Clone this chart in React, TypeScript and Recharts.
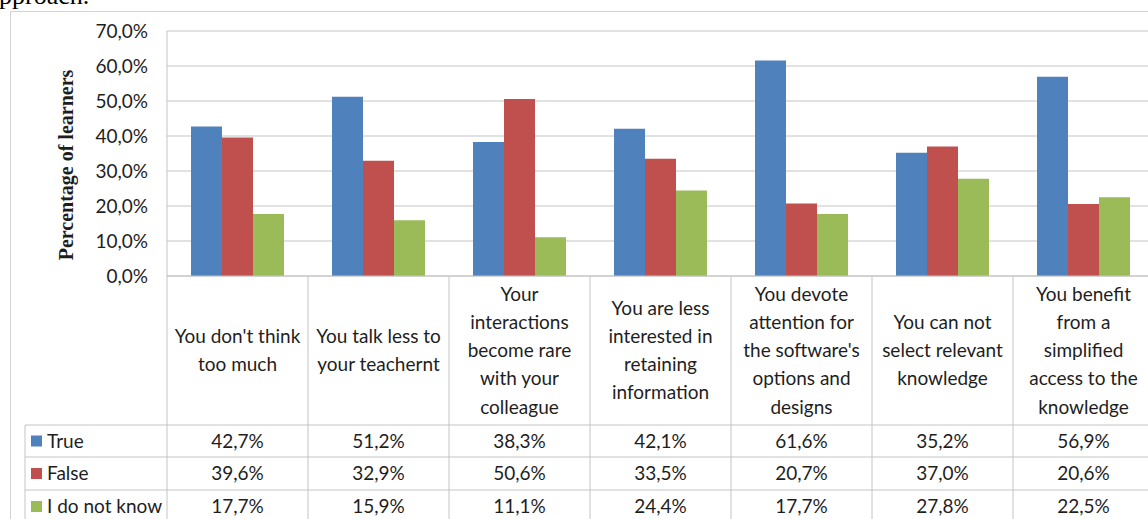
import * as React from 'react'
import { BarChart, Bar, XAxis, YAxis, CartesianGrid, Customized } from 'recharts'

// categories, as wrapped in the data table header
const categoryLines: string[][] = [
    ["You don't think", 'too much'],
    ['You talk less to', 'your teachernt'],
    ['Your', 'interactions', 'become rare', 'with your', 'colleague'],
    ['You are less', 'interested in', 'retaining', 'information'],
    ['You devote', 'attention for', "the software's", 'options and', 'designs'],
    ['You can not', 'select relevant', 'knowledge'],
    ['You benefit', 'from a', 'simplified', 'access to the', 'knowledge'],
]
const trueValues = [42.7, 51.2, 38.3, 42.1, 61.6, 35.2, 56.9]
const falseValues = [39.6, 32.9, 50.6, 33.5, 20.7, 37.0, 20.6]
const unknownValues = [17.7, 15.9, 11.1, 24.4, 17.7, 27.8, 22.5]
const yTicks = [0, 10, 20, 30, 40, 50, 60, 70]

const series = [
    { key: 'true', name: 'True', color: '#4F81BD', values: trueValues },
    { key: 'false', name: 'False', color: '#C0504D', values: falseValues },
    { key: 'unknown', name: 'I do not know', color: '#9BBB59', values: unknownValues },
]

const data = categoryLines.map((lines, i) => ({
    name: lines.join(' '),
    true: trueValues[i],
    false: falseValues[i],
    unknown: unknownValues[i],
}))

// layout
const W = 1160
const H = 560
const PLOT_LEFT = 167
const PLOT_RIGHT = 1154
const PLOT_TOP = 31
const AXIS_Y = 276
const HEADER_BOTTOM = 425
const ROW_LINES = [425, 457, 490, 523]
const TABLE_LEFT = 25
const BAND = (PLOT_RIGHT - PLOT_LEFT) / categoryLines.length
const LINE_H = 28.2
const FONT = 'Lato, "Open Sans", sans-serif'
const FS = 19
const TEXT = '#1e1e1e'
const GRID = '#c4c4c4'

const pct = (v: number) => v.toFixed(1).replace('.', ',') + '%'

const TableTick = (props: any) => {
    const { x, payload } = props
    const idx = payload.index
    const lines = categoryLines[idx]
    const mid = (AXIS_Y + HEADER_BOTTOM) / 2
    const left = x - BAND / 2
    return (
        <g>
            <line x1={left} x2={left} y1={AXIS_Y} y2={H} stroke={GRID} />
            {idx === categoryLines.length - 1 && (
                <line x1={left + BAND} x2={left + BAND} y1={AXIS_Y} y2={H} stroke={GRID} />
            )}
            {lines.map((l, i) => (
                <text key={i} x={x} y={mid + (i - (lines.length - 1) / 2) * LINE_H} dy="0.35em"
                    textAnchor="middle" fontFamily={FONT} fontSize={FS} fill={TEXT}>{l}</text>
            ))}
            {series.map((s, r) => (
                <text key={s.key} x={x} y={(ROW_LINES[r] + ROW_LINES[r + 1]) / 2} dy="0.35em"
                    textAnchor="middle" fontFamily={FONT} fontSize={FS} fill={TEXT}>{pct(s.values[idx])}</text>
            ))}
        </g>
    )
}

const Overlay = () => (
    <g>
        {ROW_LINES.slice(0, 3).map(y => (
            <line key={y} x1={TABLE_LEFT} x2={W} y1={y} y2={y} stroke={GRID} />
        ))}
        <line x1={TABLE_LEFT} x2={TABLE_LEFT} y1={HEADER_BOTTOM} y2={H} stroke={GRID} />
        {series.map((s, r) => {
            const cy = (ROW_LINES[r] + ROW_LINES[r + 1]) / 2
            return (
                <g key={s.key}>
                    <rect x={31} y={cy - 5.5} width={11} height={11} fill={s.color} />
                    <text x={47} y={cy} dy="0.35em" fontFamily={FONT} fontSize={FS} fill={TEXT}>{s.name}</text>
                </g>
            )
        })}
        <text transform="translate(73,165) rotate(-90)" textAnchor="middle"
            fontFamily='"Liberation Serif", "Times New Roman", serif' fontWeight="bold" fontSize={20} fill={TEXT}>
            Percentage of learners
        </text>
    </g>
)

export default function App() {
    return (
        <div style={{ position: 'absolute', left: 0, top: 0, width: 1148, height: 519, overflow: 'hidden', background: '#fff' }}>
            <div style={{ position: 'absolute', left: 10, top: 11, width: 1300, height: 700, border: '1px solid #d4d4d4' }} />
            <div style={{ position: 'absolute', left: -1, top: -22, fontFamily: '"Liberation Serif", "Times New Roman", serif', fontSize: 26, lineHeight: '36px', color: '#000' }}>
                pproach.
            </div>
            <div style={{ position: 'absolute', left: 0, top: 0 }}>
                <BarChart width={W} height={H} data={data} barGap={0} barCategoryGap={24}
                    margin={{ top: PLOT_TOP, right: W - PLOT_RIGHT, left: PLOT_LEFT - 60, bottom: H - AXIS_Y - 250 }}>
                    <CartesianGrid vertical={false} stroke={GRID} />
                    <XAxis dataKey="name" height={250} interval={0} tickLine={false} axisLine={{ stroke: GRID }}
                        tick={<TableTick />} />
                    <YAxis width={60} domain={[0, 70]} ticks={yTicks} tickFormatter={pct} tickLine={false}
                        tickMargin={13} axisLine={{ stroke: GRID }}
                        tick={{ fontFamily: FONT, fontSize: FS, fill: TEXT }} />
                    {series.map(s => (
                        <Bar key={s.key} dataKey={s.key} name={s.name} fill={s.color} isAnimationActive={false} />
                    ))}
                    <Customized component={Overlay} />
                </BarChart>
            </div>
        </div>
    )
}
